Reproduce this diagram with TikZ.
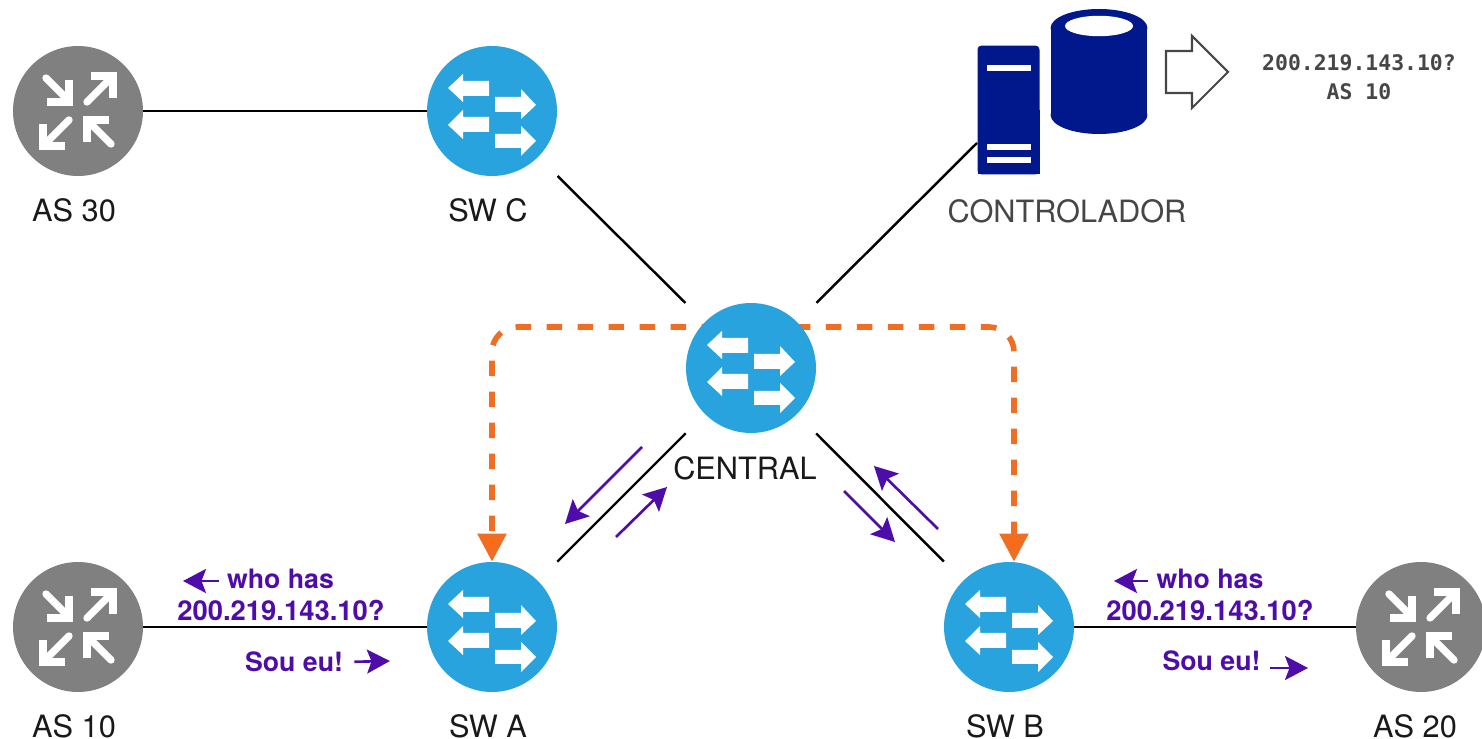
\documentclass[tikz,border=0pt]{standalone}
\usepackage{fontspec}
\setmainfont{TeX Gyre Heros}
\newfontfamily\lookupfont{DejaVu Sans Mono}
\usepackage{tikz}
\usetikzlibrary{shapes,arrows.meta,calc,positioning,backgrounds}
\definecolor{swblue}{RGB}{41,163,221}
\definecolor{rtgray}{RGB}{128,128,128}
\definecolor{navy}{RGB}{0,24,140}
\definecolor{signalorange}{RGB}{240,110,35}
\definecolor{headorange}{RGB}{255,106,15}
\definecolor{flowpurple}{RGB}{78,12,168}
\definecolor{textgray}{RGB}{70,70,70}
\tikzstyle{switch} = [circle, fill=swblue, minimum size=2.6cm, inner sep=0pt]
\tikzstyle{router} = [circle, fill=rtgray, minimum size=2.6cm, inner sep=0pt]
\tikzstyle{caption} = [inner sep=0pt, font=\fontsize{17.5}{21}\selectfont, text=black!90]
\tikzstyle{flowtext} = [inner sep=0pt, font=\fontsize{15.2}{18}\selectfont\bfseries, text=flowpurple]
\tikzstyle{addrtext} = [inner sep=0pt, font=\fontsize{15.6}{18}\selectfont\bfseries, text=flowpurple]
\tikzstyle{link} = [draw, line width=1.4pt]
\tikzstyle{gaplink} = [link, shorten <=0.54cm, shorten >=0.54cm]
\tikzstyle{signal} = [draw=signalorange, line width=3.2pt, rounded corners=0.5cm, -{Triangle[length=0.56cm,width=0.56cm,fill=headorange,sep=0pt]}]
\tikzstyle{flow} = [draw=flowpurple, line width=1.5pt, -{Stealth[length=0.46cm,width=0.48cm,inset=0.09cm]}]
\tikzstyle{rtstroke} = [draw=white, line width=4.2pt]
\tikzset{
  swicon/.pic={
    \fill [white] (-44,-23) -- (-29,-37) -- (-29,-30) -- (-3,-30) -- (-3,-15) -- (-29,-15) -- (-29,-9) -- cycle;
    \fill [white] (-44,14) -- (-29,-1) -- (-29,6) -- (-3,6) -- (-3,21) -- (-29,21) -- (-29,28) -- cycle;
    \fill [white] (44,-6) -- (29,-22) -- (29,-14) -- (3,-14) -- (3,1) -- (29,1) -- (29,8) -- cycle;
    \fill [white] (44,30) -- (29,15) -- (29,23) -- (3,23) -- (3,37) -- (29,37) -- (29,45) -- cycle;
  },
  rticon/.pic={
    \path [rtstroke, line cap=round] (-32,-33) -- (-10,-11);
    \path [rtstroke] (-9,-31) -- (-9,-9) -- (-31,-9);
    \path [rtstroke, line cap=round] (9,-9) -- (33,-33);
    \path [rtstroke] (13,-35) -- (35,-35) -- (35,-13);
    \path [rtstroke, line cap=round] (-9,9) -- (-33,33);
    \path [rtstroke] (-35,13) -- (-35,35) -- (-13,35);
    \path [rtstroke, line cap=round] (33,33) -- (11,11);
    \path [rtstroke] (9,31) -- (9,9) -- (31,9);
  }
}

\begin{document}
\begin{tikzpicture}[x=0.02cm, y=-0.02cm]
\useasboundingbox (0,0) rectangle (1482,739);

\node [router] (as30) at (78,111) {};
\node [switch] (swc) at (492,111) {};
\node [switch] (central) at (751,368) {};
\node [router] (as10) at (78,627) {};
\node [switch] (swa) at (492,627) {};
\node [switch] (swb) at (1009,627) {};
\node [router] (as20) at (1421,627) {};
\foreach \n in {swc,central,swa,swb} \pic at (\n) {swicon};
\foreach \n in {as30,as10,as20} \pic at (\n) {rticon};

\node [caption, below = 0.44cm of as30, xshift=-0.08cm] (as30text) {AS 30};
\node [caption, below = 0.44cm of swc, xshift=-0.08cm] (swctext) {SW C};
\node [caption, below = 0.46cm of central, xshift=-0.12cm] (centraltext) {CENTRAL};
\node [caption, below = 0.44cm of as10, xshift=-0.08cm] (as10text) {AS 10};
\node [caption, below = 0.44cm of swa, xshift=-0.08cm] (swatext) {SW A};
\node [caption, below = 0.44cm of swb, xshift=-0.08cm] (swbtext) {SW B};
\node [caption, below = 0.44cm of as20, xshift=-0.12cm] (as20text) {AS 20};

\node [rectangle, fill=navy, rounded corners=0.08cm, minimum width=1.24cm, minimum height=2.58cm, inner sep=0pt, outer sep=0pt] (ctrl) at (1008.5,110) {};
\fill [navy] (ctrl.west) rectangle (ctrl.south east);
\foreach \y in {68,147,160} \fill [white] (987,\y-3) rectangle (1031,\y+3);
\fill [navy] (1050.6,28) rectangle (1147.4,115);
\fill [navy] (1099,28) ellipse [x radius=48.4, y radius=19];
\fill [navy] (1099,115) ellipse [x radius=48.4, y radius=19];
\fill [white] (1099,26) ellipse [x radius=34, y radius=10.2];
\node [caption, text=textgray] (ctrltext) at (1067,211) {CONTROLADOR};
\draw [textgray, line width=1.2pt, line join=miter] (1166,51) -- (1192,51) -- (1192,36) -- (1228,72) -- (1192,108) -- (1192,93) -- (1166,93) -- cycle;
\node [inner sep=0pt, align=center, text=textgray, font=\lookupfont\bfseries\fontsize{12.2}{16.5}\selectfont] (answer) at (1359,77) {200.219.143.10?\\AS 10};

\node [flowtext] (whoa) at (280.5,579) {who has};
\node [addrtext] (addra) at (281,610) {200.219.143.10?};
\node [flowtext] (soua) at (294,662) {Sou eu!};
\node [flowtext] (whob) at (1210,579) {who has};
\node [addrtext] (addrb) at (1210,610) {200.219.143.10?};
\node [flowtext] (soub) at (1211.5,661) {Sou eu!};

\coordinate (ctrlport) at (977,143);
\path [link] (as30) -- (swc);
\path [link] (as10) -- (swa);
\path [link] (swb) -- (as20);
\path [gaplink] (swc) -- (central);
\path [gaplink] (swa) -- (central);
\path [gaplink] (central) -- (swb);
\path [link, shorten <=0.54cm] (central) -- (ctrlport);

\begin{scope}[on background layer]
\path [signal, dash pattern=on 0.31cm off 0.31cm, dash phase=0.56cm] ($(central)+(0,-41)$) -| (swa.north);
\path [signal, dash pattern=on 0.31cm off 0.31cm, dash phase=0.36cm] ($(central)+(0,-41)$) -| ($(swb.north)+(5,0)$);
\end{scope}

\coordinate (a1) at (642,447);
\coordinate (a2) at (565,524);
\coordinate (a3) at (616,537);
\coordinate (a4) at (667,487);
\coordinate (b1) at (844,491);
\coordinate (b2) at (895,542);
\coordinate (b3) at (938,529);
\coordinate (b4) at (874,466);
\path [flow] (a1) -- (a2);
\path [flow] (a3) -- (a4);
\path [flow] (b1) -- (b2);
\path [flow] (b3) -- (b4);

\coordinate (whoatip) at (183,581);
\coordinate (souatip) at (390,661);
\coordinate (whobtip) at (1114,581);
\coordinate (soubtail) at (1270,668);
\coordinate (soubtip) at (1308,668);
\path [flow, shorten <=0.16cm] (whoa.west |- whoatip) -- (whoatip);
\path [flow, shorten <=0.22cm] (soua.east) -- (souatip);
\path [flow, shorten <=0.16cm] (whob.west |- whobtip) -- (whobtip);
\path [flow] (soubtail) -- (soubtip);
\end{tikzpicture}
\end{document}
